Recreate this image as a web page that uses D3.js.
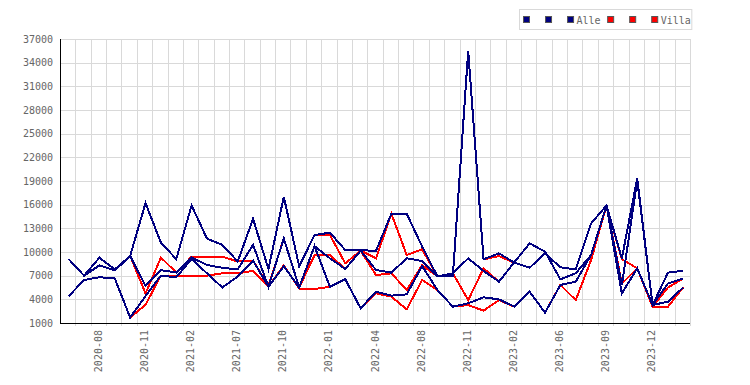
<!DOCTYPE html>
<html>
<head>
<meta charset="utf-8">
<style>
  body { margin: 0; background: #fff; }
  svg text { font-family: "DejaVu Sans Mono", monospace; font-size: 10px; fill: #666; }
</style>
</head>
<body>
<div id="chart"></div>
<script src="https://d3js.org/d3.v7.min.js"></script>
<script>
    const months = ['2020-06', '2020-07', '2020-08', '2020-09', '2020-10', '2020-11', '2020-12',
        '2021-01', '2021-02', '2021-03', '2021-05', '2021-07', '2021-08', '2021-09', '2021-10', '2021-11', '2021-12',
        '2022-01', '2022-02', '2022-03', '2022-04', '2022-05', '2022-06', '2022-08', '2022-09', '2022-10', '2022-11', '2022-12',
        '2023-01', '2023-02', '2023-03', '2023-04', '2023-06', '2023-07', '2023-08', '2023-09', '2023-10', '2023-11', '2023-12',
        '2024-01', '2024-02'];

    const tickLabels = ['2020-08', '2020-11', '2021-02', '2021-07', '2021-10', '2022-01', '2022-04',
        '2022-08', '2022-11', '2023-02', '2023-06', '2023-09', '2023-12'];

    const yTicks = [1000, 4000, 7000, 10000, 13000, 16000, 19000, 22000, 25000, 28000, 31000, 34000, 37000];

    // Alle (blue)
    const alle1 = [9100, 7000, 9280, 7800, 9500, 16200, 11200, 9100, 15900, 11700, 10900, 8800, 14200, 7850, 17000, 8200, 12150,
        12450, 10250, 10250, 10130, 14850, 14850, 10700, 6900, 6900, 35500, 9070, 9830, 8650, 8010, 9830, 8060, 7800, 13630,
        15900, 9200, 19340, 3280, 7380, 7630];
    const alle2 = [9100, 7000, 8300, 7650, 9500, 5700, 7700, 7400, 9300, 8350, 8000, 7800, 10900, 5600, 11700, 5500, 10750,
        9200, 7850, 10170, 7720, 7380, 9200, 8860, 6900, 7300, 9200, 7600, 6240, 8690, 11100, 10040, 6530, 7300, 9620,
        15900, 5800, 19100, 3280, 6000, 6660];
    const alle3 = [4400, 6450, 6800, 6650, 1700, 4400, 7000, 6800, 9100, 7300, 5500, 6900, 8900, 5600, 8200, 5500, 10750,
        5600, 6550, 2860, 4970, 4470, 4630, 8225, 5180, 3070, 3500, 4250, 4000, 3070, 4970, 2310, 5820, 6240, 9620,
        15900, 4760, 7930, 3280, 3700, 5520];

    // Villa (red)
    const villa1 = [9100, 7000, 9280, 7800, 9500, 16200, 11200, 9100, 15900, 11700, 10900, 8800, 14200, 7850, 17000, 8200, 12150,
        12150, 8560, 10170, 9200, 14850, 9620, 10340, 6900, 6900, 35500, 9070, 9490, 8650, 8010, 9830, 8060, 7800, 13630,
        15900, 9100, 7930, 3280, 7380, 7630];
    const villa2 = [9100, 7000, 8300, 7650, 9500, 4750, 9300, 7400, 9400, 9400, 9400, 8800, 8900, 5700, 11700, 5500, 9600,
        9600, 7850, 10170, 7080, 7300, 5180, 8350, 6900, 7300, 3900, 7930, 6240, 8690, 11100, 10040, 6530, 7300, 9620,
        15900, 6000, 7930, 3070, 5500, 6660];
    const villa3 = [4400, 6450, 6800, 6650, 1700, 3300, 7000, 6900, 7000, 7000, 7300, 7300, 7600, 5600, 8300, 5350, 5300,
        5600, 6550, 2860, 4760, 4340, 2730, 6450, 5180, 3070, 3280, 2560, 3900, 3070, 4970, 2310, 5820, 3900, 9000,
        15900, 4760, 7930, 3070, 3070, 5520];

    const series = [
        { label: '', color: '#000080', values: alle1 },
        { label: '', color: '#000080', values: alle2 },
        { label: 'Alle', color: '#000080', values: alle3 },
        { label: '', color: '#ff0000', values: villa1 },
        { label: '', color: '#ff0000', values: villa2 },
        { label: 'Villa', color: '#ff0000', values: villa3 }
    ];

    const svg = d3.select('#chart')
        .append('svg')
        .attr('width', 750)
        .attr('height', 385);

    const margin = { top: 39, right: 60, bottom: 62, left: 60 };
    const width = 750 - margin.left - margin.right;
    const height = 385 - margin.top - margin.bottom;

    const g = svg.append('g')
        .attr('transform', `translate(${margin.left},${margin.top})`);

    const x = d3.scaleBand()
        .domain(months)
        .range([0, width]);

    const px = m => x(m) + x.bandwidth() / 2 + 1;

    const y = d3.scaleLinear()
        .domain([1000, 37000])
        .range([height, 0]);

    // grid
    g.selectAll('.hgrid')
        .data(yTicks)
        .enter()
        .append('line')
        .attr('x1', 0)
        .attr('x2', width)
        .attr('y1', d => Math.round(y(d)) + 0.5)
        .attr('y2', d => Math.round(y(d)) + 0.5)
        .attr('stroke', '#d9d9d9');

    g.selectAll('.vgrid')
        .data(months)
        .enter()
        .append('line')
        .attr('x1', d => Math.round(x(d) + x.bandwidth()) + 0.5)
        .attr('x2', d => Math.round(x(d) + x.bandwidth()) + 0.5)
        .attr('y1', 0)
        .attr('y2', height)
        .attr('stroke', '#d9d9d9');

    // small ticks under the x axis
    g.selectAll('.xtick')
        .data(months)
        .enter()
        .append('line')
        .attr('x1', d => Math.round(x(d) + x.bandwidth()) + 0.5)
        .attr('x2', d => Math.round(x(d) + x.bandwidth()) + 0.5)
        .attr('y1', height)
        .attr('y2', height + 3)
        .attr('stroke', '#d9d9d9');

    // lines: red below, blue on top (no antialiasing, like the original)
    const line = d3.line()
        .x((d, i) => px(months[i]))
        .y(d => y(d));

    [3, 4, 5, 0, 1, 2].forEach(k => {
        g.append('path')
            .datum(series[k].values)
            .attr('fill', 'none')
            .attr('stroke', series[k].color)
            .attr('stroke-width', 2)
            .attr('shape-rendering', 'crispEdges')
            .attr('d', line);
    });

    // axes
    g.append('line')
        .attr('x1', 0.5).attr('x2', 0.5)
        .attr('y1', 0).attr('y2', height + 0.5)
        .attr('stroke', '#000');
    g.append('line')
        .attr('x1', 0).attr('x2', width)
        .attr('y1', height + 0.5).attr('y2', height + 0.5)
        .attr('stroke', '#000');

    g.selectAll('.ylabel')
        .data(yTicks)
        .enter()
        .append('text')
        .attr('x', -7)
        .attr('y', d => y(d))
        .attr('dy', '.35em')
        .attr('text-anchor', 'end')
        .text(d => d);

    g.selectAll('.xlabel')
        .data(tickLabels)
        .enter()
        .append('text')
        .attr('transform', d => `translate(${px(d) - 1},${height + 7}) rotate(-90)`)
        .attr('dy', '.35em')
        .attr('text-anchor', 'end')
        .text(d => d);

    // legend
    const legend = svg.append('g');
    const box = legend.append('rect')
        .attr('fill', '#fff')
        .attr('stroke', '#d9d9d9');

    let lx = 523;
    series.forEach(s => {
        legend.append('rect')
            .attr('x', lx + 0.5)
            .attr('y', 16.5)
            .attr('width', 6)
            .attr('height', 6)
            .attr('fill', s.color)
            .attr('stroke', '#555');
        const t = legend.append('text')
            .attr('x', lx + 9.5)
            .attr('y', 20)
            .attr('dy', '.35em')
            .text(s.label || '\u00a0');
        lx += 9.5 + t.node().getComputedTextLength() + 6.5;
    });
    box.attr('x', 519.5).attr('y', 9.5).attr('width', lx - 519 - 6).attr('height', 20);
</script>
</body>
</html>
